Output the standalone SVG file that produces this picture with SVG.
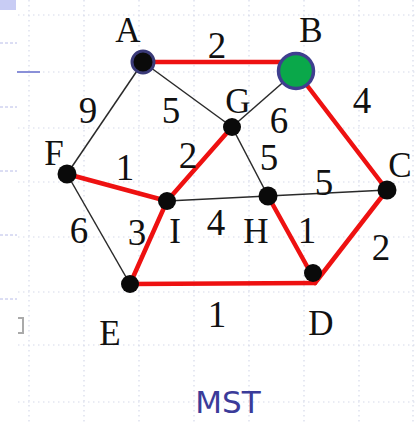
<svg xmlns="http://www.w3.org/2000/svg" width="415" height="425" viewBox="0 0 415 425">
<style>
.grid line{stroke:#d5d9ea;stroke-width:1.2;stroke-dasharray:1.5 3.5}
.e{stroke:#2a2a2a;stroke-width:1.5;fill:none}
.m{stroke:#ee1111;stroke-width:4.5;fill:none;stroke-linecap:round}
.lbl{font-family:"Liberation Serif","Times New Roman",serif;font-size:35px;fill:#111;text-anchor:middle}
.num{font-size:37px}
.dot{fill:#0a0a0a}
</style>
<rect width="415" height="425" fill="#ffffff"/>
<g class="grid">
<line x1="29" y1="0" x2="29" y2="425"/><line x1="84" y1="0" x2="84" y2="425"/><line x1="139" y1="0" x2="139" y2="425"/><line x1="194" y1="0" x2="194" y2="425"/><line x1="249" y1="0" x2="249" y2="425"/><line x1="304" y1="0" x2="304" y2="425"/><line x1="359" y1="0" x2="359" y2="425"/><line x1="413" y1="0" x2="413" y2="425"/>
<line x1="18" y1="15" x2="415" y2="15"/><line x1="18" y1="72" x2="415" y2="72"/><line x1="18" y1="128" x2="415" y2="128"/><line x1="18" y1="182" x2="415" y2="182"/><line x1="18" y1="237" x2="415" y2="237"/><line x1="18" y1="292" x2="415" y2="292"/><line x1="18" y1="345" x2="415" y2="345"/><line x1="18" y1="402" x2="415" y2="402"/>
</g>
<g id="decor">
<rect x="0" y="0" width="16" height="10" fill="#c8ccf4"/>
<line x1="17" y1="72" x2="40" y2="72" stroke="#8a90d8" stroke-width="2"/>
<g stroke="#b8bce8" stroke-width="1" stroke-dasharray="3 2"><line x1="0" y1="43" x2="17" y2="43"/><line x1="0" y1="107" x2="17" y2="107"/><line x1="0" y1="171" x2="17" y2="171"/><line x1="0" y1="235" x2="17" y2="235"/><line x1="0" y1="299" x2="17" y2="299"/></g>
<path d="M18 318h5v15h-5" fill="none" stroke="#aaaaaa" stroke-width="2"/>
</g>
<g id="connectors">
<line class="e" x1="143" y1="62" x2="67" y2="174"/>
<line class="e" x1="143" y1="62" x2="232" y2="127"/>
<line class="e" x1="296" y1="71" x2="232" y2="127"/>
<line class="e" x1="232" y1="127" x2="268" y2="196"/>
<line class="e" x1="67" y1="174" x2="130" y2="284"/>
<line class="e" x1="167" y1="201" x2="268" y2="196"/>
<line class="e" x1="268" y1="196" x2="387" y2="190"/>
<line class="m" x1="143" y1="62" x2="296" y2="62"/>
<line class="m" x1="296" y1="71" x2="387" y2="190"/>
<line class="m" x1="232" y1="127" x2="167" y2="201"/>
<line class="m" x1="67" y1="174" x2="167" y2="201"/>
<line class="m" x1="167" y1="201" x2="130" y2="284"/>
<line class="m" x1="268" y1="196" x2="313" y2="277"/>
<line class="m" x1="387" y1="190" x2="315" y2="283"/>
<line class="m" x1="130" y1="284" x2="315" y2="283"/>
</g>
<g id="edge-labels" class="lbl num">
<text x="217" y="58">2</text>
<text x="88" y="123">9</text>
<text x="171" y="123">5</text>
<text x="279" y="133">6</text>
<text x="362" y="113">4</text>
<text x="125" y="180">1</text>
<text x="188" y="168">2</text>
<text x="269" y="170">5</text>
<text x="324" y="195">5</text>
<text x="79" y="243">6</text>
<text x="137" y="245">3</text>
<text x="216" y="235">4</text>
<text x="307" y="243">1</text>
<text x="381" y="260">2</text>
<text x="217" y="327">1</text>
</g>
<g id="node-A"><circle cx="143" cy="62" r="11" fill="#0a0a0a" stroke="#3a3a78" stroke-width="3"/><text class="lbl" x="128" y="42">A</text></g>
<g id="node-B"><circle cx="296" cy="71" r="17.5" fill="#0aa84a" stroke="#3f3f8f" stroke-width="3.5"/><text class="lbl" x="311" y="42">B</text></g>
<g id="node-G"><circle class="dot" cx="232" cy="127" r="9"/><text class="lbl" x="238" y="113">G</text></g>
<g id="node-F"><circle class="dot" cx="67" cy="174" r="9.5"/><text class="lbl" x="54" y="165">F</text></g>
<g id="node-I"><circle class="dot" cx="167" cy="201" r="9"/><text class="lbl" x="175" y="243">I</text></g>
<g id="node-H"><circle class="dot" cx="268" cy="196" r="9.5"/><text class="lbl" x="256" y="243">H</text></g>
<g id="node-C"><circle class="dot" cx="387" cy="190" r="9.5"/><text class="lbl" x="400" y="177">C</text></g>
<g id="node-D"><circle class="dot" cx="313" cy="273" r="9"/><text class="lbl" x="321" y="335">D</text></g>
<g id="node-E"><circle class="dot" cx="130" cy="284" r="9"/><text class="lbl" x="110" y="345">E</text></g>
<text x="228" y="413" font-family="'DejaVu Sans','Liberation Sans',sans-serif" font-size="31" fill="#3b3b99" text-anchor="middle">MST</text>
</svg>
